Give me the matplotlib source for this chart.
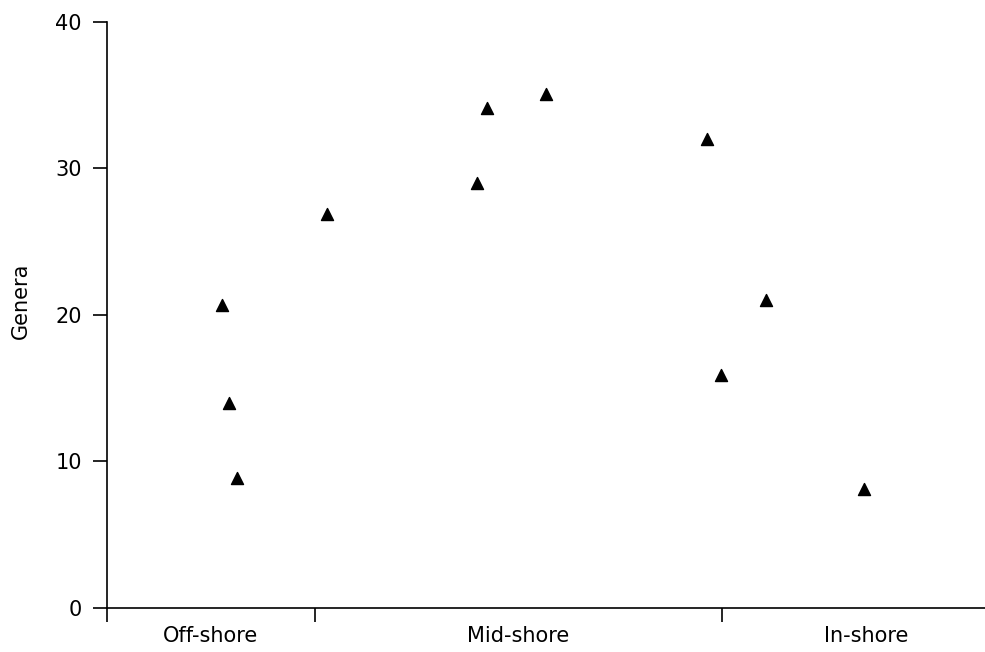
import matplotlib
matplotlib.use('Agg')
import matplotlib.pyplot as plt

# 样点：沿岸距离（任意单位）与属数
dist = [115, 122, 130, 220, 370, 380, 439, 600, 614, 659, 757]
genera = [20.7, 14.0, 8.9, 26.9, 29.0, 34.1, 35.1, 32.0, 15.9, 21.0, 8.1]

zone_edges = [0, 208, 615]
zone_names = ['Off-shore', 'Mid-shore', 'In-shore']
zone_mid = [104, 411, 759]
y_ticks = [0, 10, 20, 30, 40]

plt.rcParams['font.family'] = ['DejaVu Sans']

fig = plt.figure(figsize=(9.85, 6.52), dpi=100)
ax = fig.add_axes([0.1086, 0.0675, 0.8914, 0.8988])

ax.scatter(dist, genera, marker='^', s=75, color='black', zorder=3)

ax.set_xlim(0, 878)
ax.set_ylim(0, 40)
for s in ['top', 'right']:
    ax.spines[s].set_visible(False)
for s in ['left', 'bottom']:
    ax.spines[s].set_linewidth(1.2)

ax.set_yticks(y_ticks)
ax.tick_params(axis='y', length=10, width=1.2, labelsize=15, pad=8)

ax.set_xticks(zone_edges)
ax.set_xticklabels([''] * 3)
ax.set_xticks(zone_mid, minor=True)
ax.set_xticklabels(zone_names, minor=True)
ax.tick_params(axis='x', which='major', length=10, width=1.2)
ax.tick_params(axis='x', which='minor', length=0, labelsize=15, pad=13)

ax.set_ylabel('Genera', fontsize=15)
ax.yaxis.set_label_coords(-0.087, 0.525)

plt.savefig('out.png', dpi=100)
plt.close()
